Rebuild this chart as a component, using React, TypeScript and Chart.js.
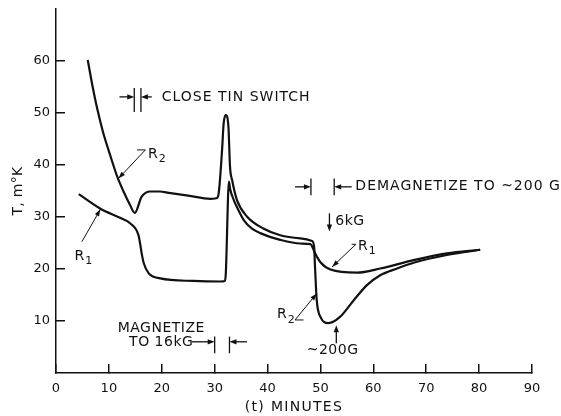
import React, { useEffect, useRef } from 'react';
import { Chart, registerables } from 'chart.js';

Chart.register(...registerables);

// ---- data ----
const r1Time = [4.3, 8.4, 12.2, 14.0, 15.6, 15.9, 16.2, 16.6, 17.5, 19.7, 26.0, 31.1, 31.9, 32.1, 32.7, 32.9, 33.6, 34.5, 35.5, 37.0, 38.6, 42.4, 46.2, 48.1, 49.0, 50.0, 51.9, 56.9, 61.3, 67.6, 73.9, 80.2];
const r1Temp = [34.4, 31.6, 29.8, 28.8, 26.5, 24.9, 23.0, 21.1, 19.2, 18.2, 17.7, 17.6, 17.7, 19.0, 36.8, 35.5, 33.3, 31.3, 29.4, 27.8, 26.9, 25.6, 24.9, 24.8, 23.0, 21.3, 19.9, 19.3, 20.1, 21.7, 23.0, 23.7];

const r2Time = [6.0, 6.9, 7.8, 8.9, 10.3, 11.6, 12.9, 14.0, 14.9, 16.2, 17.8, 19.7, 21.0, 25.0, 29.2, 30.3, 30.7, 31.4, 31.7, 32.1, 32.6, 32.9, 33.3, 34.2, 36.1, 39.2, 42.4, 46.2, 48.4, 48.8, 49.0, 49.3, 50.0, 51.5, 53.7, 56.3, 58.8, 61.3, 64.5, 67.6, 73.9, 80.2];
const r2Temp = [60.2, 55.2, 50.8, 46.3, 41.7, 37.7, 34.6, 32.3, 30.8, 33.9, 34.9, 34.9, 34.7, 34.1, 33.5, 33.6, 34.2, 42.9, 48.0, 49.6, 47.4, 39.7, 37.1, 33.3, 30.1, 27.8, 26.5, 25.9, 25.4, 24.3, 19.8, 14.0, 10.8, 9.6, 10.8, 14.0, 16.9, 18.8, 20.1, 21.2, 22.7, 23.7];

const xTickValues = [0, 10, 20, 30, 40, 50, 60, 70, 80, 90];
const yTickValues = [10, 20, 30, 40, 50, 60];
const xAxisTitle = '(t) MINUTES';
const yAxisTitle = 'T, m°K';

const INK = '#111111';
const FONT = '"DejaVu Sans", "Liberation Sans", sans-serif';

// annotation anchors in data units
const closeSwitch = { text: 'CLOSE TIN SWITCH', tailL: 12.0, barL: 14.8, barR: 16.06, tailR: 18.1, y: 53.1, top: 54.8, bottom: 50.2, textX: 20.0 };
const demag = { text: 'DEMAGNETIZE TO ~200 G', tailL: 45.2, barL: 48.2, barR: 52.6, tailR: 55.9, y: 35.8, top: 37.4, bottom: 34.2, textX: 56.6 };
const magnetize = { line1: 'MAGNETIZE', line2: 'TO 16kG', cx: 19.9, y1: 8.65, y2: 5.9, tailL: 25.7, barL: 30.0, barR: 32.8, tailR: 36.1, y: 6.0, top: 7.0, bottom: 3.8 };
const sixKG = { text: '6kG', x: 51.7, yFrom: 30.7, yTo: 27.2, textX: 52.8, textY: 29.2 };
const twoHundredG = { text: '~200G', x: 53.0, yFrom: 5.7, yTo: 9.2, cx: 52.3, textY: 4.4 };
const labels = [
  { name: 'R', sub: '2', textX: 17.4, textY: 42.0, hx1: 15.3, hx2: 16.9, hy: 42.9, tipX: 11.8, tipY: 37.4 },
  { name: 'R', sub: '1', textX: 3.5, textY: 22.5, hx1: 4.9, hx2: 4.9, hy: 25.25, tipX: 8.4, tipY: 31.5 },
  { name: 'R', sub: '1', textX: 57.1, textY: 24.4, hx1: 55.9, hx2: 56.7, hy: 24.75, tipX: 52.2, tipY: 20.4 },
  { name: 'R', sub: '2', textX: 41.8, textY: 11.2, hx1: 46.8, hx2: 45.2, hy: 10.2, tipX: 49.3, tipY: 15.3 },
];

function arrowHead(ctx: CanvasRenderingContext2D, tx: number, ty: number, fx: number, fy: number, len = 7, half = 2.6) {
  const a = Math.atan2(ty - fy, tx - fx);
  ctx.beginPath();
  ctx.moveTo(tx, ty);
  ctx.lineTo(tx - len * Math.cos(a) + half * Math.sin(a), ty - len * Math.sin(a) - half * Math.cos(a));
  ctx.lineTo(tx - len * Math.cos(a) - half * Math.sin(a), ty - len * Math.sin(a) + half * Math.cos(a));
  ctx.closePath();
  ctx.fill();
}

function seg(ctx: CanvasRenderingContext2D, x1: number, y1: number, x2: number, y2: number) {
  ctx.beginPath();
  ctx.moveTo(x1, y1);
  ctx.lineTo(x2, y2);
  ctx.stroke();
}

const annotatePlugin = {
  id: 'annotate',
  afterDraw(chart: any) {
    const ctx: CanvasRenderingContext2D = chart.ctx;
    const xs = chart.scales.x;
    const ys = chart.scales.y;
    const X = (v: number) => xs.getPixelForValue(v);
    const Y = (v: number) => ys.getPixelForValue(v);
    ctx.save();
    ctx.strokeStyle = INK;
    ctx.fillStyle = INK;
    ctx.lineWidth = 1.3;
    ctx.textBaseline = 'middle';

    const bracket = (b: any) => {
      seg(ctx, X(b.barL), Y(b.top), X(b.barL), Y(b.bottom));
      seg(ctx, X(b.barR), Y(b.top), X(b.barR), Y(b.bottom));
      seg(ctx, X(b.tailL), Y(b.y), X(b.barL) - 4, Y(b.y));
      arrowHead(ctx, X(b.barL), Y(b.y), X(b.tailL), Y(b.y));
      seg(ctx, X(b.tailR), Y(b.y), X(b.barR) + 4, Y(b.y));
      arrowHead(ctx, X(b.barR), Y(b.y), X(b.tailR), Y(b.y));
    };

    bracket(closeSwitch);
    bracket(demag);
    bracket(magnetize);

    (ctx as any).letterSpacing = '1px';
    ctx.font = `14px ${FONT}`;
    ctx.textAlign = 'left';
    ctx.fillText(closeSwitch.text, X(closeSwitch.textX), Y(closeSwitch.y));
    ctx.fillText(demag.text, X(demag.textX), Y(demag.y));

    (ctx as any).letterSpacing = '0.5px';
    ctx.textAlign = 'center';
    ctx.fillText(magnetize.line1, X(magnetize.cx), Y(magnetize.y1));
    ctx.fillText(magnetize.line2, X(magnetize.cx), Y(magnetize.y2));

    // 6kG
    seg(ctx, X(sixKG.x), Y(sixKG.yFrom), X(sixKG.x), Y(sixKG.yTo) - 4);
    arrowHead(ctx, X(sixKG.x), Y(sixKG.yTo), X(sixKG.x), Y(sixKG.yFrom));
    ctx.textAlign = 'left';
    ctx.fillText(sixKG.text, X(sixKG.textX), Y(sixKG.textY));

    // ~200G
    seg(ctx, X(twoHundredG.x), Y(twoHundredG.yFrom), X(twoHundredG.x), Y(twoHundredG.yTo) + 4);
    arrowHead(ctx, X(twoHundredG.x), Y(twoHundredG.yTo), X(twoHundredG.x), Y(twoHundredG.yFrom));
    ctx.textAlign = 'center';
    ctx.fillText(twoHundredG.text, X(twoHundredG.cx), Y(twoHundredG.textY));

    // R labels with leaders
    ctx.lineWidth = 1;
    for (const l of labels) {
      seg(ctx, X(l.hx1), Y(l.hy), X(l.hx2), Y(l.hy));
      seg(ctx, X(l.hx2), Y(l.hy), X(l.tipX), Y(l.tipY));
      arrowHead(ctx, X(l.tipX), Y(l.tipY), X(l.hx2), Y(l.hy), 7, 2.4);
      (ctx as any).letterSpacing = '0px';
      ctx.textAlign = 'left';
      ctx.font = `14px ${FONT}`;
      const tx = X(l.textX);
      const ty = Y(l.textY);
      ctx.fillText(l.name, tx, ty);
      const w = ctx.measureText(l.name).width;
      ctx.font = `11px ${FONT}`;
      ctx.fillText(l.sub, tx + w + 1, ty + 5);
    }

    // axis titles
    ctx.font = `14px ${FONT}`;
    (ctx as any).letterSpacing = '1.3px';
    ctx.textAlign = 'center';
    ctx.fillText(xAxisTitle, (chart.chartArea.left + chart.chartArea.right) / 2, 407);
    (ctx as any).letterSpacing = '0.3px';
    ctx.translate(18, (chart.chartArea.top + chart.chartArea.bottom) / 2);
    ctx.rotate(-Math.PI / 2);
    ctx.fillText(yAxisTitle, 0, 0);
    ctx.restore();
  },
};

export default function App() {
  const ref = useRef<HTMLCanvasElement>(null);
  useEffect(() => {
    if (!ref.current) return;
    const mk = (t: number[], v: number[]) => t.map((x, i) => ({ x, y: v[i] }));
    const chart = new Chart(ref.current, {
      type: 'line',
      data: {
        datasets: [
          { label: 'R1', data: mk(r1Time, r1Temp), borderColor: INK, borderWidth: 2.2, pointRadius: 0, cubicInterpolationMode: 'monotone', fill: false },
          { label: 'R2', data: mk(r2Time, r2Temp), borderColor: INK, borderWidth: 2.2, pointRadius: 0, cubicInterpolationMode: 'monotone', fill: false },
        ],
      },
      options: {
        animation: false,
        responsive: false,
        maintainAspectRatio: false,
        layout: { padding: { left: 0, right: 29, top: 9, bottom: 0 } },
        plugins: { legend: { display: false }, tooltip: { enabled: false }, title: { display: false } },
        scales: {
          x: {
            type: 'linear',
            min: 0,
            max: 90,
            afterBuildTicks: (s: any) => { s.ticks = xTickValues.map((value) => ({ value })); },
            afterFit: (s: any) => { s.height = 43; s.paddingLeft = 0; s.paddingRight = 0; },
            grid: { drawOnChartArea: false, drawTicks: true, tickLength: -9, color: INK, lineWidth: 1.5 },
            border: { color: INK, width: 1.5 },
            ticks: { color: INK, font: { family: FONT, size: 13 }, padding: 17, maxRotation: 0, autoSkip: false },
          },
          y: {
            type: 'linear',
            min: 0,
            max: 70,
            afterBuildTicks: (s: any) => { s.ticks = yTickValues.map((value) => ({ value })); },
            afterFit: (s: any) => { s.width = 56; s.paddingTop = 0; s.paddingBottom = 0; },
            grid: { drawOnChartArea: false, drawTicks: true, tickLength: -9, color: INK, lineWidth: 1.5 },
            border: { color: INK, width: 1.5 },
            ticks: { color: INK, font: { family: FONT, size: 13 }, padding: 15, autoSkip: false },
          },
        },
      } as any,
      plugins: [annotatePlugin],
    });
    return () => chart.destroy();
  }, []);
  return (
    <div style={{ position: 'fixed', left: 0, top: 0, width: 561, height: 416, background: '#fff' }}>
      <canvas ref={ref} width={561} height={416} style={{ display: 'block', width: 561, height: 416 }} />
    </div>
  );
}
